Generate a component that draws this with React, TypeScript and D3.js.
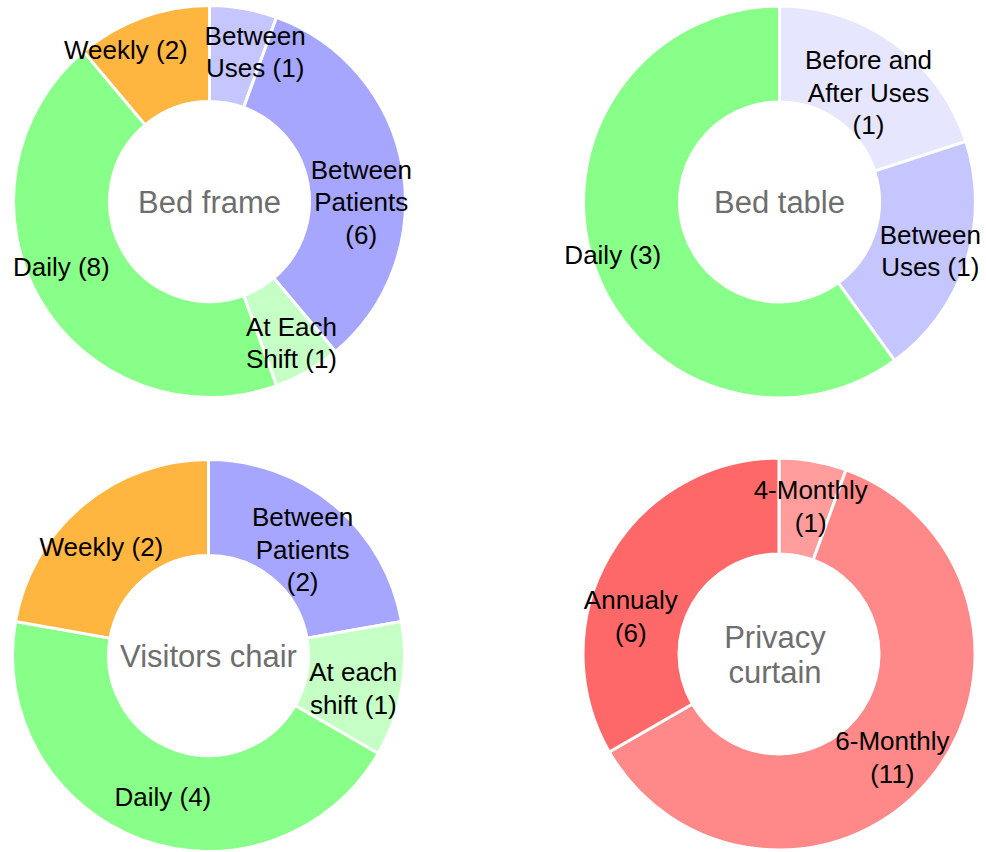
import * as d3 from "d3";

// Bed frame
const bedFrameCategories = ["Between Uses", "Between Patients", "At Each Shift", "Daily", "Weekly"];
const bedFrameValues = [1, 6, 1, 8, 2];
const bedFrameLabels = ["Between\nUses (1)", "Between\nPatients\n(6)", "At Each\nShift (1)", "Daily (8)", "Weekly (2)"];

// Bed table
const bedTableCategories = ["Before and After Uses", "Between Uses", "Daily"];
const bedTableValues = [1, 1, 3];
const bedTableLabels = ["Before and\nAfter Uses\n(1)", "Between\nUses (1)", "Daily (3)"];

// Visitors chair
const chairCategories = ["Between Patients", "At each shift", "Daily", "Weekly"];
const chairValues = [2, 1, 4, 2];
const chairLabels = ["Between\nPatients\n(2)", "At each\nshift (1)", "Daily (4)", "Weekly (2)"];

// Privacy curtain
const curtainCategories = ["4-Monthly", "6-Monthly", "Annualy"];
const curtainValues = [1, 11, 6];
const curtainLabels = ["4-Monthly\n(1)", "6-Monthly\n(11)", "Annualy\n(6)"];

const colorByCategory: Record<string, string> = {
  "Between Uses": "#c6c6ff",
  "Between Patients": "#a6a6ff",
  "At Each Shift": "#c6ffc6",
  "At each shift": "#c6ffc6",
  "Daily": "#88ff88",
  "Weekly": "#ffb640",
  "Before and After Uses": "#e6e6ff",
  "4-Monthly": "#ff9c9c",
  "6-Monthly": "#ff8888",
  "Annualy": "#ff6868",
};

const charts = [
  { title: "Bed frame", cats: bedFrameCategories, vals: bedFrameValues, labels: bedFrameLabels,
    cx: 209.5, cy: 201.5, nudge: [[20, -4], [6, 26], [8, 13], [-20, -9], [-33, -13]] },
  { title: "Bed table", cats: bedTableCategories, vals: bedTableValues, labels: bedTableLabels,
    cx: 779.5, cy: 202, nudge: [[2, 10], [10, 3], [-26, 7]] },
  { title: "Visitors chair", cats: chairCategories, vals: chairValues, labels: chairLabels,
    cx: 208.5, cy: 655.5, nudge: [[-1, 7], [-1, 7], [5, 2], [-12, 4]] },
  { title: "Privacy\ncurtain", cats: curtainCategories, vals: curtainValues, labels: curtainLabels,
    cx: 779, cy: 654, nudge: [[6, -2], [0, 8], [-20, 36]], titleDx: -4 },
];

const outerR = 196;
const innerR = 100;
const labelLine = 32.5;
const font = "'Liberation Sans', Arial, sans-serif";

const arc = d3.arc<d3.PieArcDatum<number>>().innerRadius(innerR).outerRadius(outerR);
const labelArc = d3.arc<d3.PieArcDatum<number>>()
  .innerRadius((innerR + outerR) / 2)
  .outerRadius((innerR + outerR) / 2);

const Donut = ({ c }: { c: any }) => {
  const pie = d3.pie<number>().sort(null).startAngle(0).endAngle(2 * Math.PI);
  const arcs = pie(c.vals);
  const titleLines = c.title.split("\n");
  return (
    <g transform={`translate(${c.cx},${c.cy})`}>
      {arcs.map((a, i) => (
        <path key={i} d={arc(a) || ""} fill={colorByCategory[c.cats[i]]} stroke="#fff" strokeWidth={3} />
      ))}
      {arcs.map((a, i) => {
        const [x, y] = labelArc.centroid(a);
        const lines = c.labels[i].split("\n");
        const lx = x + c.nudge[i][0];
        const ly = y + c.nudge[i][1];
        return (
          <text key={"l" + i} x={lx} y={ly} textAnchor="middle" fontSize={26} fontFamily={font} fill="#000">
            {lines.map((t: string, j: number) => (
              <tspan key={j} x={lx} y={ly + (j - (lines.length - 1) / 2) * labelLine} dy="0.36em">{t}</tspan>
            ))}
          </text>
        );
      })}
      <text textAnchor="middle" fontSize={31} fontFamily={font} fill="#6e6e6e">
        {titleLines.map((t: string, j: number) => (
          <tspan key={j} x={c.titleDx || 0} y={(j - (titleLines.length - 1) / 2) * 35} dy="0.36em">{t}</tspan>
        ))}
      </text>
    </g>
  );
};

export default function App() {
  return (
    <svg width={986} height={852} style={{ position: "absolute", left: 0, top: 0, background: "#fff" }}>
      {charts.map((c, i) => <Donut key={i} c={c} />)}
    </svg>
  );
}
